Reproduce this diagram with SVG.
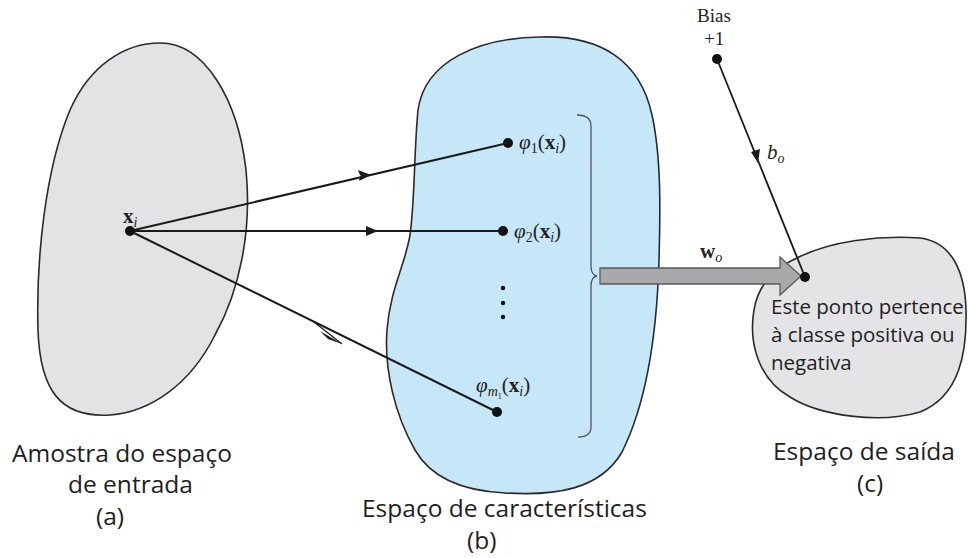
<svg xmlns="http://www.w3.org/2000/svg" width="968" height="558" viewBox="0 0 968 558">
<style>
.blob{stroke:#2a2a2a;stroke-width:1.6}
.ga{fill:#e3e3e5}
.gb{fill:#c6e7f7}
.gc{fill:#e4e4e6}
.dot{fill:#111}
.ln{stroke:#1a1a1a;stroke-width:2;fill:none}
.ah{fill:#1a1a1a}
.m{font-family:"Liberation Serif","DejaVu Serif",serif;font-size:21px;fill:#222}
.s{font-size:14px}
.ss{font-size:8px}
.lbl{font-family:"Open Sans","Liberation Sans",sans-serif;font-size:24.5px;fill:#1e1e1e}
.note{font-family:"Open Sans","Liberation Sans",sans-serif;font-size:20.5px;fill:#1e1e1e}
.brk{stroke:#555;stroke-width:1.3;fill:none}
</style>
<rect width="968" height="558" fill="#ffffff"/>

<g id="node-a">
<path class="blob ga" d="M 160,43 C 205,43 238,100 246,170 C 252,230 240,290 215,335 C 190,385 150,412 110,415 C 60,418 40,390 38,330 C 36,260 45,170 70,110 C 90,65 125,43 160,43 Z"/>
<text class="m" x="123" y="223"><tspan font-weight="bold">x</tspan><tspan class="s" font-style="italic" dy="4">i</tspan></text>
<text class="lbl" x="12" y="462">Amostra do espaço</text>
<text class="lbl" x="68" y="493">de entrada</text>
<text class="lbl" x="96" y="525">(a)</text>
</g>

<g id="node-b">
<path class="blob gb" d="M 540,37 C 600,35 640,60 652,115 C 662,160 660,220 659,260 C 657,330 648,400 622,452 C 600,490 555,496 505,493 C 465,491 432,480 415,450 C 395,415 384,370 387,330 C 390,290 405,265 410,235 C 415,200 414,150 418,110 C 425,60 480,38 540,37 Z"/>
<path class="brk" d="M 577,115 Q 591,115 591,126 L 591,266 Q 591,275 597,276 Q 591,277 591,286 L 591,427 Q 591,437 578,437"/>
<text class="m" x="519" y="149"><tspan font-style="italic">φ</tspan><tspan class="s" dy="4">1</tspan><tspan dy="-4">(</tspan><tspan font-weight="bold">x</tspan><tspan class="s" font-style="italic" dy="4">i</tspan><tspan dy="-4">)</tspan></text>
<text class="m" x="514" y="238"><tspan font-style="italic">φ</tspan><tspan class="s" dy="4">2</tspan><tspan dy="-4">(</tspan><tspan font-weight="bold">x</tspan><tspan class="s" font-style="italic" dy="4">i</tspan><tspan dy="-4">)</tspan></text>
<text class="m" x="476" y="392"><tspan font-style="italic">φ</tspan><tspan class="s" font-style="italic" dy="4">m</tspan><tspan class="ss" dy="3">1</tspan><tspan dy="-7">(</tspan><tspan font-weight="bold">x</tspan><tspan class="s" font-style="italic" dy="4">i</tspan><tspan dy="-4">)</tspan></text>
<circle class="dot" cx="508" cy="143" r="5"/>
<circle class="dot" cx="503" cy="231" r="5"/>
<circle class="dot" cx="497" cy="412" r="5"/>
<circle class="dot" cx="503" cy="288" r="2.2"/>
<circle class="dot" cx="503" cy="303" r="2.2"/>
<circle class="dot" cx="503" cy="317" r="2.2"/>
<text class="lbl" x="362" y="517">Espaço de características</text>
<text class="lbl" x="467" y="549">(b)</text>
</g>

<g id="node-c">
<path class="blob gc" d="M 797,258 C 830,241 880,235 920,238 C 952,242 965,272 966,310 C 967,352 960,396 920,412 C 880,424 820,416 790,397 C 760,380 748,345 754,310 C 758,285 775,268 797,258 Z"/>
<text class="note" x="771" y="314">Este ponto pertence</text>
<text class="note" x="771" y="342">à classe positiva ou</text>
<text class="note" x="771" y="370">negativa</text>
<text class="lbl" x="773" y="460">Espaço de saída</text>
<text class="lbl" x="857" y="492">(c)</text>
</g>

<g id="node-bias">
<text class="m" x="697" y="22" style="font-size:19px">Bias</text>
<text class="m" x="704" y="45" style="font-size:19px">+1</text>
</g>

<g id="connectors">
<line class="ln" x1="130" y1="231" x2="508" y2="143"/>
<line class="ln" x1="130" y1="231" x2="503" y2="231"/>
<line class="ln" x1="130" y1="231" x2="497" y2="412"/>
<polygon class="ah" points="371,175 360,175 358,170"/>
<polygon class="ah" points="371,175 359,181 361,174"/>
<polygon class="ah" points="378,231 366,226 366,236"/>
<polygon class="ah" points="342,344 320,331 328,339"/>
<line x1="314" y1="322" x2="342" y2="344" stroke="#1a1a1a" stroke-width="1.3"/>
<line class="ln" x1="717" y1="59" x2="805" y2="277" style="stroke-width:1.8"/>
<polygon class="ah" points="758,163 751,152 760,149"/>
<text class="m" x="767" y="159"><tspan font-style="italic">b</tspan><tspan class="s" font-style="italic" dy="4">o</tspan></text>
<polygon points="600,268 780,268 780,257 801,276 780,295 780,284 600,284" fill="#a9a9ab" stroke="#5a5a5a" stroke-width="1.3"/>
<text class="m" x="700" y="258"><tspan font-weight="bold">w</tspan><tspan class="s" font-style="italic" dy="4">o</tspan></text>
<circle class="dot" cx="717" cy="59" r="5"/>
<circle class="dot" cx="805" cy="277" r="5"/>
<circle class="dot" cx="130" cy="231" r="5"/>
</g>
</svg>
